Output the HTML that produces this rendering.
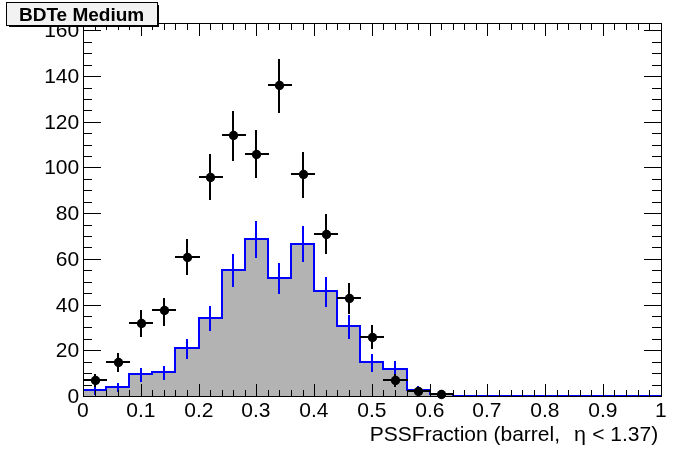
<!DOCTYPE html>
<html><head><meta charset="utf-8"><title>BDTe Medium</title>
<style>html,body{margin:0;padding:0;background:#fff}svg{display:block;will-change:transform}text{font-family:"Liberation Sans",sans-serif;fill:#000}</style></head><body>
<svg width="696" height="472" viewBox="0 0 696 472">
<rect width="696" height="472" fill="#fff"/>
<text transform="translate(79.20,403.40) scale(1.0,1)" font-size="21" text-anchor="end">0</text>
<text transform="translate(79.20,357.40) scale(1.0,1)" font-size="21" text-anchor="end">20</text>
<text transform="translate(79.20,312.40) scale(1.0,1)" font-size="21" text-anchor="end">40</text>
<text transform="translate(79.20,266.40) scale(1.0,1)" font-size="21" text-anchor="end">60</text>
<text transform="translate(79.20,220.40) scale(1.0,1)" font-size="21" text-anchor="end">80</text>
<text transform="translate(79.20,174.40) scale(1.0,1)" font-size="21" text-anchor="end">100</text>
<text transform="translate(79.20,129.40) scale(1.0,1)" font-size="21" text-anchor="end">120</text>
<text transform="translate(79.20,83.40) scale(1.0,1)" font-size="21" text-anchor="end">140</text>
<text transform="translate(79.20,37.40) scale(1.0,1)" font-size="21" text-anchor="end">160</text>
<g fill="#b3b3b3" shape-rendering="crispEdges">
<rect x="83" y="390" width="23" height="6"/>
<rect x="106" y="387" width="23" height="9"/>
<rect x="129" y="374" width="23" height="22"/>
<rect x="152" y="372" width="23" height="24"/>
<rect x="175" y="348" width="24" height="48"/>
<rect x="199" y="318" width="23" height="78"/>
<rect x="222" y="270" width="23" height="126"/>
<rect x="245" y="239" width="23" height="157"/>
<rect x="268" y="278" width="23" height="118"/>
<rect x="291" y="244" width="23" height="152"/>
<rect x="314" y="291" width="23" height="105"/>
<rect x="337" y="326" width="23" height="70"/>
<rect x="360" y="362" width="23" height="34"/>
<rect x="383" y="369" width="24" height="27"/>
<rect x="407" y="390" width="23" height="6"/>
<rect x="430" y="394" width="23" height="2"/>
</g>
<g fill="#0000ff" shape-rendering="crispEdges">
<rect x="83" y="389" width="24" height="2"/>
<rect x="105" y="386" width="25" height="2"/>
<rect x="105" y="386" width="2" height="5"/>
<rect x="128" y="373" width="25" height="2"/>
<rect x="128" y="373" width="2" height="15"/>
<rect x="151" y="371" width="25" height="2"/>
<rect x="151" y="371" width="2" height="4"/>
<rect x="174" y="347" width="26" height="2"/>
<rect x="174" y="347" width="2" height="26"/>
<rect x="198" y="317" width="25" height="2"/>
<rect x="198" y="317" width="2" height="32"/>
<rect x="221" y="269" width="25" height="2"/>
<rect x="221" y="269" width="2" height="50"/>
<rect x="244" y="238" width="25" height="2"/>
<rect x="244" y="238" width="2" height="33"/>
<rect x="267" y="277" width="25" height="2"/>
<rect x="267" y="238" width="2" height="41"/>
<rect x="290" y="243" width="25" height="2"/>
<rect x="290" y="243" width="2" height="36"/>
<rect x="313" y="290" width="25" height="2"/>
<rect x="313" y="243" width="2" height="49"/>
<rect x="336" y="325" width="25" height="2"/>
<rect x="336" y="290" width="2" height="37"/>
<rect x="359" y="361" width="25" height="2"/>
<rect x="359" y="325" width="2" height="38"/>
<rect x="382" y="368" width="26" height="2"/>
<rect x="382" y="361" width="2" height="9"/>
<rect x="406" y="389" width="25" height="2"/>
<rect x="406" y="368" width="2" height="23"/>
<rect x="429" y="393" width="25" height="2"/>
<rect x="429" y="389" width="2" height="6"/>
<rect x="452" y="395" width="25" height="2"/>
<rect x="452" y="393" width="2" height="4"/>
<rect x="475" y="395" width="25" height="2"/>
<rect x="498" y="395" width="25" height="2"/>
<rect x="521" y="395" width="25" height="2"/>
<rect x="544" y="395" width="25" height="2"/>
<rect x="567" y="395" width="25" height="2"/>
<rect x="590" y="395" width="25" height="2"/>
<rect x="613" y="395" width="26" height="2"/>
<rect x="637" y="395" width="25" height="2"/>
<rect x="94" y="385" width="2" height="10"/>
<rect x="117" y="383" width="2" height="9"/>
<rect x="140" y="368" width="2" height="14"/>
<rect x="163" y="366" width="2" height="14"/>
<rect x="186" y="339" width="2" height="20"/>
<rect x="209" y="306" width="2" height="25"/>
<rect x="232" y="254" width="2" height="33"/>
<rect x="255" y="221" width="2" height="37"/>
<rect x="278" y="263" width="2" height="31"/>
<rect x="302" y="226" width="2" height="36"/>
<rect x="325" y="277" width="2" height="30"/>
<rect x="348" y="315" width="2" height="24"/>
<rect x="371" y="354" width="2" height="18"/>
<rect x="394" y="361" width="2" height="17"/>
<rect x="417" y="386" width="2" height="8"/>
<rect x="440" y="392" width="2" height="5"/>
</g>
<g fill="#000" shape-rendering="crispEdges">
<rect x="83" y="23" width="579" height="1"/>
<rect x="83" y="396" width="579" height="1"/>
<rect x="83" y="23" width="1" height="374"/>
<rect x="661" y="23" width="1" height="374"/>
<rect x="83" y="384" width="1" height="12"/>
<rect x="83" y="24" width="1" height="12"/>
<rect x="95" y="390" width="1" height="6"/>
<rect x="95" y="24" width="1" height="6"/>
<rect x="106" y="390" width="1" height="6"/>
<rect x="106" y="24" width="1" height="6"/>
<rect x="118" y="390" width="1" height="6"/>
<rect x="118" y="24" width="1" height="6"/>
<rect x="129" y="390" width="1" height="6"/>
<rect x="129" y="24" width="1" height="6"/>
<rect x="141" y="384" width="1" height="12"/>
<rect x="141" y="24" width="1" height="12"/>
<rect x="152" y="390" width="1" height="6"/>
<rect x="152" y="24" width="1" height="6"/>
<rect x="164" y="390" width="1" height="6"/>
<rect x="164" y="24" width="1" height="6"/>
<rect x="175" y="390" width="1" height="6"/>
<rect x="175" y="24" width="1" height="6"/>
<rect x="187" y="390" width="1" height="6"/>
<rect x="187" y="24" width="1" height="6"/>
<rect x="199" y="384" width="1" height="12"/>
<rect x="199" y="24" width="1" height="12"/>
<rect x="210" y="390" width="1" height="6"/>
<rect x="210" y="24" width="1" height="6"/>
<rect x="222" y="390" width="1" height="6"/>
<rect x="222" y="24" width="1" height="6"/>
<rect x="233" y="390" width="1" height="6"/>
<rect x="233" y="24" width="1" height="6"/>
<rect x="245" y="390" width="1" height="6"/>
<rect x="245" y="24" width="1" height="6"/>
<rect x="256" y="384" width="1" height="12"/>
<rect x="256" y="24" width="1" height="12"/>
<rect x="268" y="390" width="1" height="6"/>
<rect x="268" y="24" width="1" height="6"/>
<rect x="279" y="390" width="1" height="6"/>
<rect x="279" y="24" width="1" height="6"/>
<rect x="291" y="390" width="1" height="6"/>
<rect x="291" y="24" width="1" height="6"/>
<rect x="303" y="390" width="1" height="6"/>
<rect x="303" y="24" width="1" height="6"/>
<rect x="314" y="384" width="1" height="12"/>
<rect x="314" y="24" width="1" height="12"/>
<rect x="326" y="390" width="1" height="6"/>
<rect x="326" y="24" width="1" height="6"/>
<rect x="337" y="390" width="1" height="6"/>
<rect x="337" y="24" width="1" height="6"/>
<rect x="349" y="390" width="1" height="6"/>
<rect x="349" y="24" width="1" height="6"/>
<rect x="360" y="390" width="1" height="6"/>
<rect x="360" y="24" width="1" height="6"/>
<rect x="372" y="384" width="1" height="12"/>
<rect x="372" y="24" width="1" height="12"/>
<rect x="383" y="390" width="1" height="6"/>
<rect x="383" y="24" width="1" height="6"/>
<rect x="395" y="390" width="1" height="6"/>
<rect x="395" y="24" width="1" height="6"/>
<rect x="407" y="390" width="1" height="6"/>
<rect x="407" y="24" width="1" height="6"/>
<rect x="418" y="390" width="1" height="6"/>
<rect x="418" y="24" width="1" height="6"/>
<rect x="430" y="384" width="1" height="12"/>
<rect x="430" y="24" width="1" height="12"/>
<rect x="441" y="390" width="1" height="6"/>
<rect x="441" y="24" width="1" height="6"/>
<rect x="453" y="390" width="1" height="6"/>
<rect x="453" y="24" width="1" height="6"/>
<rect x="464" y="390" width="1" height="6"/>
<rect x="464" y="24" width="1" height="6"/>
<rect x="476" y="390" width="1" height="6"/>
<rect x="476" y="24" width="1" height="6"/>
<rect x="487" y="384" width="1" height="12"/>
<rect x="487" y="24" width="1" height="12"/>
<rect x="499" y="390" width="1" height="6"/>
<rect x="499" y="24" width="1" height="6"/>
<rect x="511" y="390" width="1" height="6"/>
<rect x="511" y="24" width="1" height="6"/>
<rect x="522" y="390" width="1" height="6"/>
<rect x="522" y="24" width="1" height="6"/>
<rect x="534" y="390" width="1" height="6"/>
<rect x="534" y="24" width="1" height="6"/>
<rect x="545" y="384" width="1" height="12"/>
<rect x="545" y="24" width="1" height="12"/>
<rect x="557" y="390" width="1" height="6"/>
<rect x="557" y="24" width="1" height="6"/>
<rect x="568" y="390" width="1" height="6"/>
<rect x="568" y="24" width="1" height="6"/>
<rect x="580" y="390" width="1" height="6"/>
<rect x="580" y="24" width="1" height="6"/>
<rect x="591" y="390" width="1" height="6"/>
<rect x="591" y="24" width="1" height="6"/>
<rect x="603" y="384" width="1" height="12"/>
<rect x="603" y="24" width="1" height="12"/>
<rect x="614" y="390" width="1" height="6"/>
<rect x="614" y="24" width="1" height="6"/>
<rect x="626" y="390" width="1" height="6"/>
<rect x="626" y="24" width="1" height="6"/>
<rect x="638" y="390" width="1" height="6"/>
<rect x="638" y="24" width="1" height="6"/>
<rect x="649" y="390" width="1" height="6"/>
<rect x="649" y="24" width="1" height="6"/>
<rect x="661" y="384" width="1" height="12"/>
<rect x="661" y="24" width="1" height="12"/>
<rect x="84" y="396" width="17" height="1"/>
<rect x="644" y="396" width="17" height="1"/>
<rect x="84" y="385" width="8" height="1"/>
<rect x="652" y="385" width="9" height="1"/>
<rect x="84" y="373" width="8" height="1"/>
<rect x="652" y="373" width="9" height="1"/>
<rect x="84" y="362" width="8" height="1"/>
<rect x="652" y="362" width="9" height="1"/>
<rect x="84" y="350" width="17" height="1"/>
<rect x="644" y="350" width="17" height="1"/>
<rect x="84" y="339" width="8" height="1"/>
<rect x="652" y="339" width="9" height="1"/>
<rect x="84" y="327" width="8" height="1"/>
<rect x="652" y="327" width="9" height="1"/>
<rect x="84" y="316" width="8" height="1"/>
<rect x="652" y="316" width="9" height="1"/>
<rect x="84" y="305" width="17" height="1"/>
<rect x="644" y="305" width="17" height="1"/>
<rect x="84" y="293" width="8" height="1"/>
<rect x="652" y="293" width="9" height="1"/>
<rect x="84" y="282" width="8" height="1"/>
<rect x="652" y="282" width="9" height="1"/>
<rect x="84" y="270" width="8" height="1"/>
<rect x="652" y="270" width="9" height="1"/>
<rect x="84" y="259" width="17" height="1"/>
<rect x="644" y="259" width="17" height="1"/>
<rect x="84" y="247" width="8" height="1"/>
<rect x="652" y="247" width="9" height="1"/>
<rect x="84" y="236" width="8" height="1"/>
<rect x="652" y="236" width="9" height="1"/>
<rect x="84" y="225" width="8" height="1"/>
<rect x="652" y="225" width="9" height="1"/>
<rect x="84" y="213" width="17" height="1"/>
<rect x="644" y="213" width="17" height="1"/>
<rect x="84" y="202" width="8" height="1"/>
<rect x="652" y="202" width="9" height="1"/>
<rect x="84" y="190" width="8" height="1"/>
<rect x="652" y="190" width="9" height="1"/>
<rect x="84" y="179" width="8" height="1"/>
<rect x="652" y="179" width="9" height="1"/>
<rect x="84" y="167" width="17" height="1"/>
<rect x="644" y="167" width="17" height="1"/>
<rect x="84" y="156" width="8" height="1"/>
<rect x="652" y="156" width="9" height="1"/>
<rect x="84" y="145" width="8" height="1"/>
<rect x="652" y="145" width="9" height="1"/>
<rect x="84" y="133" width="8" height="1"/>
<rect x="652" y="133" width="9" height="1"/>
<rect x="84" y="122" width="17" height="1"/>
<rect x="644" y="122" width="17" height="1"/>
<rect x="84" y="110" width="8" height="1"/>
<rect x="652" y="110" width="9" height="1"/>
<rect x="84" y="99" width="8" height="1"/>
<rect x="652" y="99" width="9" height="1"/>
<rect x="84" y="88" width="8" height="1"/>
<rect x="652" y="88" width="9" height="1"/>
<rect x="84" y="76" width="17" height="1"/>
<rect x="644" y="76" width="17" height="1"/>
<rect x="84" y="65" width="8" height="1"/>
<rect x="652" y="65" width="9" height="1"/>
<rect x="84" y="53" width="8" height="1"/>
<rect x="652" y="53" width="9" height="1"/>
<rect x="84" y="42" width="8" height="1"/>
<rect x="652" y="42" width="9" height="1"/>
<rect x="84" y="30" width="17" height="1"/>
<rect x="644" y="30" width="17" height="1"/>
</g>
<g fill="#000" shape-rendering="crispEdges">
<rect x="83" y="379" width="24" height="2"/>
<rect x="94" y="374" width="2" height="13"/>
<rect x="106" y="361" width="24" height="2"/>
<rect x="117" y="353" width="2" height="19"/>
<rect x="129" y="322" width="24" height="2"/>
<rect x="140" y="310" width="2" height="27"/>
<rect x="152" y="309" width="24" height="2"/>
<rect x="163" y="298" width="2" height="28"/>
<rect x="175" y="256" width="25" height="2"/>
<rect x="186" y="239" width="2" height="36"/>
<rect x="199" y="176" width="24" height="2"/>
<rect x="209" y="154" width="2" height="46"/>
<rect x="222" y="134" width="24" height="2"/>
<rect x="232" y="111" width="2" height="50"/>
<rect x="245" y="153" width="24" height="2"/>
<rect x="255" y="130" width="2" height="48"/>
<rect x="268" y="84" width="24" height="2"/>
<rect x="278" y="59" width="2" height="54"/>
<rect x="291" y="173" width="24" height="2"/>
<rect x="302" y="152" width="2" height="46"/>
<rect x="314" y="233" width="24" height="2"/>
<rect x="325" y="214" width="2" height="40"/>
<rect x="337" y="297" width="24" height="2"/>
<rect x="348" y="283" width="2" height="31"/>
<rect x="360" y="336" width="24" height="2"/>
<rect x="371" y="325" width="2" height="24"/>
<rect x="383" y="379" width="25" height="2"/>
<rect x="394" y="374" width="2" height="13"/>
<rect x="407" y="390" width="24" height="2"/>
<rect x="417" y="387" width="2" height="8"/>
<rect x="430" y="393" width="24" height="2"/>
<rect x="440" y="391" width="2" height="6"/>
</g>
<g fill="#000">
<circle cx="95.5" cy="380.5" r="4.65"/>
<circle cx="118.5" cy="362.5" r="4.65"/>
<circle cx="141.5" cy="323.5" r="4.65"/>
<circle cx="164.5" cy="310.5" r="4.65"/>
<circle cx="187.5" cy="257.5" r="4.65"/>
<circle cx="210.5" cy="177.5" r="4.65"/>
<circle cx="233.5" cy="135.5" r="4.65"/>
<circle cx="256.5" cy="154.5" r="4.65"/>
<circle cx="279.5" cy="85.5" r="4.65"/>
<circle cx="303.5" cy="174.5" r="4.65"/>
<circle cx="326.5" cy="234.5" r="4.65"/>
<circle cx="349.5" cy="298.5" r="4.65"/>
<circle cx="372.5" cy="337.5" r="4.65"/>
<circle cx="395.5" cy="380.5" r="4.65"/>
<circle cx="418.5" cy="391.5" r="4.65"/>
<circle cx="441.5" cy="394.5" r="4.65"/>
</g>
<text transform="translate(82.90,417.20) scale(1.0,1)" font-size="21" text-anchor="middle">0</text>
<text transform="translate(140.90,417.20) scale(1.0,1)" font-size="21" text-anchor="middle">0.1</text>
<text transform="translate(198.90,417.20) scale(1.0,1)" font-size="21" text-anchor="middle">0.2</text>
<text transform="translate(255.90,417.20) scale(1.0,1)" font-size="21" text-anchor="middle">0.3</text>
<text transform="translate(313.90,417.20) scale(1.0,1)" font-size="21" text-anchor="middle">0.4</text>
<text transform="translate(371.90,417.20) scale(1.0,1)" font-size="21" text-anchor="middle">0.5</text>
<text transform="translate(429.90,417.20) scale(1.0,1)" font-size="21" text-anchor="middle">0.6</text>
<text transform="translate(486.90,417.20) scale(1.0,1)" font-size="21" text-anchor="middle">0.7</text>
<text transform="translate(544.90,417.20) scale(1.0,1)" font-size="21" text-anchor="middle">0.8</text>
<text transform="translate(602.90,417.20) scale(1.0,1)" font-size="21" text-anchor="middle">0.9</text>
<text transform="translate(660.90,417.20) scale(1.0,1)" font-size="21" text-anchor="middle">1</text>
<text transform="translate(369.80,440.90) scale(1.0,1)" font-size="21" text-anchor="start">PSSFraction (barrel,</text>
<text transform="translate(574.00,440.90) scale(1.05,1)" font-size="20.5" text-anchor="start" font-family="&quot;Liberation Serif&quot;,serif">η</text>
<text transform="translate(658.20,440.90) scale(1.0,1)" font-size="21" text-anchor="end">&lt; 1.37)</text>
<g shape-rendering="crispEdges" fill="#000">
<rect x="6" y="2" width="152" height="24" fill="#000"/>
<rect x="7" y="3" width="150" height="22" fill="#f2f2f2"/>
<rect x="158" y="5" width="1" height="22"/>
<rect x="9" y="26" width="150" height="1"/>
</g>
<text x="81.6" y="21" font-size="19" font-weight="bold" text-anchor="middle">BDTe Medium</text>
</svg></body></html>
